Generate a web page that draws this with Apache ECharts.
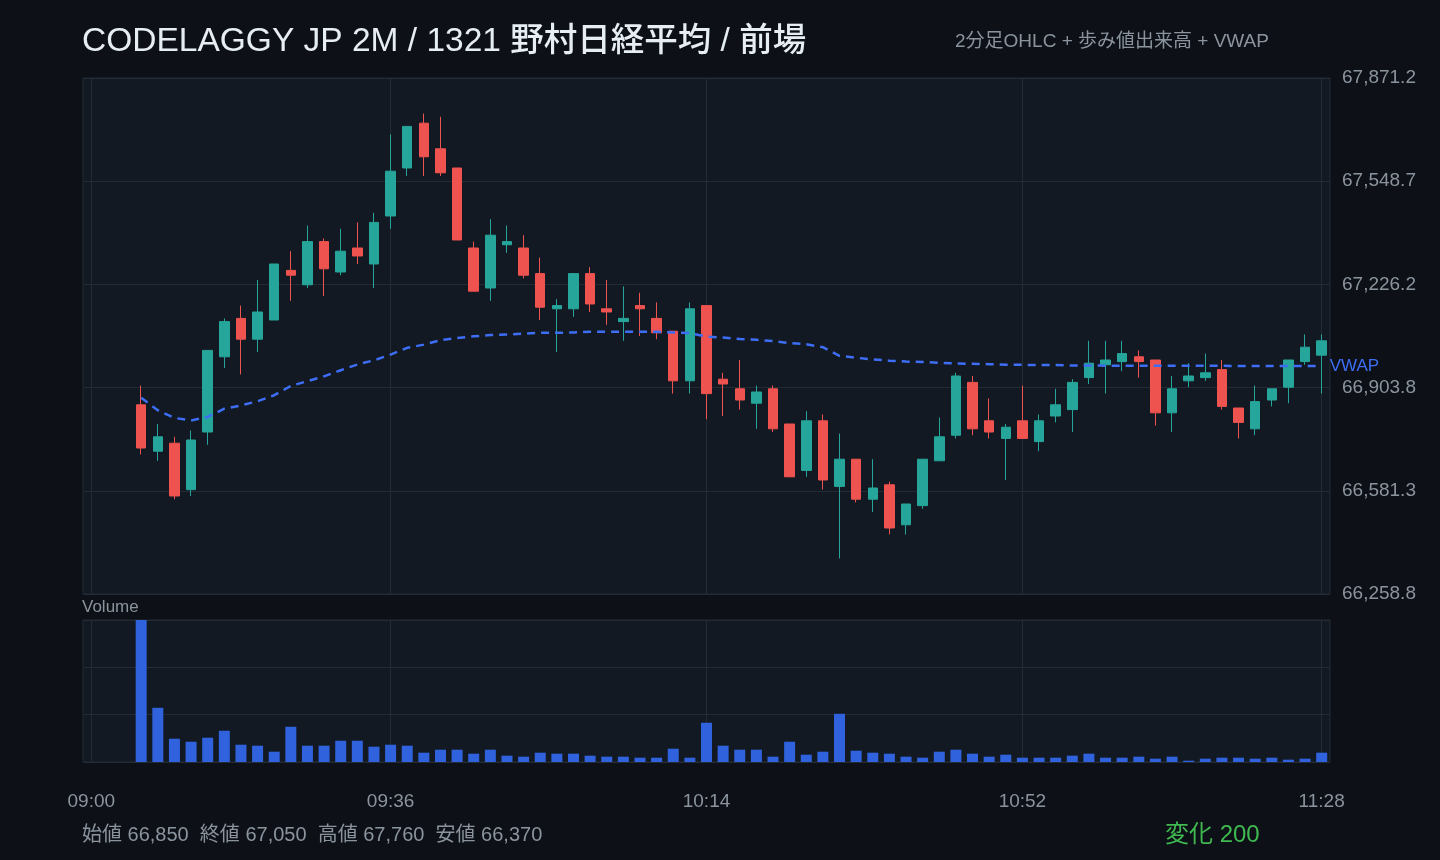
<!DOCTYPE html>
<html lang="ja">

<head>
    <meta charset="UTF-8">
    <title>CODELAGGY JP 2M</title>
    <script src="https://cdn.jsdelivr.net/npm/echarts@6.0.0/dist/echarts.min.js"></script>
    <style>
        html, body { margin: 0; padding: 0; background: #0d1117; }
        #chart { width: 1440px; height: 860px; }
    </style>
</head>

<body>
    <div id="chart"></div>

    <script>
        // 時間軸 09:00 - 11:28 (2分足)
        let times = []
        for (let m = 0; m <= 148; m += 2) {
            let h = 9 + Math.floor(m / 60)
            let mm = m % 60
            times.push((h < 10 ? '0' + h : '' + h) + ':' + (mm < 10 ? '0' + mm : mm))
        }
        const labelIdx = [0, 18, 37, 56, 74]

        // 09:06 から 11:28 までの足
        const barTimes = times.slice(3)
        const open = [66850, 66705, 66730, 66585, 66765, 67000, 67120, 67055, 67115, 67270, 67225, 67360,
            67265, 67340, 67290, 67440, 67590, 67730, 67650, 67590, 67340, 67215, 67350, 67340,
            67260, 67150, 67150, 67260, 67150, 67110, 67160, 67120, 67080, 66925, 67160, 66930,
            66900, 66855, 66900, 66790, 66645, 66800, 66595, 66680, 66555, 66600, 66475, 66535,
            66675, 66755, 66920, 66800, 66745, 66800, 66735, 66815, 66835, 66935, 66975, 66985,
            67000, 66990, 66825, 66925, 66935, 66960, 66840, 66775, 66865, 66905, 66985, 67005]
        const close = [66715, 66750, 66565, 66740, 67020, 67110, 67055, 67140, 67290, 67255, 67360, 67275,
            67330, 67315, 67420, 67580, 67720, 67625, 67575, 67365, 67205, 67380, 67360, 67255,
            67155, 67160, 67260, 67165, 67140, 67120, 67150, 67075, 66925, 67150, 66885, 66915,
            66865, 66890, 66775, 66625, 66800, 66615, 66680, 66555, 66590, 66465, 66540, 66680,
            66750, 66940, 66775, 66765, 66780, 66745, 66800, 66850, 66920, 66980, 66990, 67010,
            66985, 66825, 66900, 66940, 66950, 66845, 66795, 66860, 66900, 66990, 67030, 67050]
        const low = [66695, 66675, 66555, 66565, 66725, 66965, 66945, 67015, 67115, 67175, 67215, 67190,
            67255, 67290, 67215, 67400, 67565, 67565, 67565, 67365, 67205, 67175, 67325, 67245,
            67115, 67015, 67125, 67140, 67100, 67050, 67065, 67055, 66885, 66885, 66805, 66815,
            66835, 66775, 66765, 66625, 66625, 66585, 66370, 66545, 66515, 66445, 66445, 66525,
            66675, 66745, 66755, 66745, 66615, 66745, 66705, 66795, 66765, 66915, 66885, 66955,
            66935, 66785, 66765, 66905, 66925, 66835, 66745, 66755, 66845, 66855, 66975, 66885]
        const high = [66910, 66790, 66750, 66770, 67020, 67120, 67160, 67240, 67290, 67330, 67410, 67370,
            67400, 67420, 67450, 67695, 67720, 67760, 67750, 67590, 67360, 67430, 67410, 67380,
            67310, 67180, 67260, 67280, 67240, 67220, 67200, 67170, 67080, 67170, 67160, 66950,
            66990, 66910, 66910, 66790, 66830, 66820, 66760, 66680, 66680, 66610, 66540, 66680,
            66810, 66950, 66940, 66870, 66790, 66910, 66820, 66900, 66930, 67050, 67050, 67050,
            67020, 66990, 66940, 66980, 67010, 66990, 66840, 66910, 66900, 66990, 67070, 67070]
        const vwap = [66872, 66833, 66809, 66801, 66812, 66838, 66848, 66861, 66880, 66909, 66924, 66939,
            66958, 66976, 66989, 67007, 67028, 67038, 67052, 67059, 67064, 67068, 67070, 67072,
            67075, 67075, 67076, 67078, 67078, 67078, 67078, 67078, 67076, 67074, 67063, 67060,
            67056, 67053, 67049, 67043, 67039, 67030, 67003, 66997, 66992, 66988, 66985, 66984,
            66981, 66979, 66978, 66977, 66975, 66975, 66974, 66974, 66973, 66973, 66972, 66972,
            66972, 66972, 66972, 66972, 66972, 66972, 66971, 66971, 66971, 66971, 66971, 66971]
        // 出来高 (相対値)
        const volume = [427, 163, 70, 61, 73, 94, 52, 49, 31, 106, 49, 49,
            64, 64, 46, 52, 49, 28, 37, 37, 25, 37, 19, 16,
            28, 25, 25, 19, 16, 16, 13, 13, 40, 13, 118, 49,
            37, 37, 16, 61, 22, 31, 145, 34, 28, 25, 16, 13,
            31, 37, 25, 16, 22, 13, 13, 13, 19, 25, 13, 13,
            16, 10, 16, 4, 10, 13, 13, 10, 13, 7, 10, 28]

        // 集計
        const firstOpen = open[0]
        const lastClose = close[close.length - 1]
        const hi = Math.max(...high)
        const lo = Math.min(...low)
        const pad = (hi - lo) * 0.08
        const yMin = Math.round((lo - pad) * 10) / 10
        const yMax = Math.round((hi + pad) * 10) / 10
        const yStep = (yMax - yMin) / 5
        const volMax = Math.max(...volume)

        function comma(v, d) {
            return v.toLocaleString('en-US', { minimumFractionDigits: d, maximumFractionDigits: d })
        }
        function showIdx(idx) {
            return labelIdx.indexOf(idx) >= 0
        }

        const gridLine = '#232b35'
        const textGray = '#8b949e'

        let myChart = echarts.init(document.getElementById('chart'))

        let option = {
            backgroundColor: '#0d1117',
            animation: false,
            textStyle: { fontFamily: '"Liberation Sans", "Noto Sans CJK JP", sans-serif' },
            title: [
                {
                    text: 'CODELAGGY JP 2M / 1321 野村日経平均 / 前場',
                    left: 82, top: 25, padding: 0,
                    textStyle: { color: '#e6edf3', fontSize: 33.5, fontWeight: 500 }
                },
                {
                    text: '2分足OHLC + 歩み値出来高 + VWAP',
                    left: 955, top: 32, padding: 0,
                    textStyle: { color: textGray, fontSize: 19, fontWeight: 'normal' }
                },
                {
                    text: 'Volume',
                    left: 82, top: 599, padding: 0,
                    textStyle: { color: textGray, fontSize: 17, fontWeight: 'normal' }
                },
                {
                    text: '始値 ' + comma(firstOpen, 0) + '  終値 ' + comma(lastClose, 0) +
                        '  高値 ' + comma(hi, 0) + '  安値 ' + comma(lo, 0),
                    left: 82, top: 825, padding: 0,
                    textStyle: { color: textGray, fontSize: 20, fontWeight: 'normal' }
                },
                {
                    text: '変化 ' + comma(lastClose - firstOpen, 0),
                    left: 1165, top: 823, padding: 0,
                    textStyle: { color: '#3fb950', fontSize: 24, fontWeight: 'normal' }
                }
            ],
            grid: [
                {
                    left: 83, right: 110, top: 78, height: 516,
                    show: true, backgroundColor: '#121922', borderColor: gridLine, borderWidth: 1
                },
                {
                    left: 83, right: 110, top: 620, height: 142,
                    show: true, backgroundColor: '#121922', borderColor: gridLine, borderWidth: 1
                }
            ],
            xAxis: [
                {
                    type: 'category',
                    gridIndex: 0,
                    data: times,
                    boundaryGap: true,
                    axisLine: { show: false },
                    axisTick: { show: false },
                    axisLabel: { show: false },
                    splitLine: { show: true, interval: showIdx, alignWithLabel: true, lineStyle: { color: gridLine } }
                },
                {
                    type: 'category',
                    gridIndex: 1,
                    data: times,
                    boundaryGap: true,
                    axisLine: { show: false },
                    axisTick: { show: false },
                    axisLabel: { show: true, interval: showIdx, color: textGray, fontSize: 19, margin: 30 },
                    splitLine: { show: true, interval: showIdx, alignWithLabel: true, lineStyle: { color: gridLine } }
                }
            ],
            yAxis: [
                {
                    type: 'value',
                    gridIndex: 0,
                    position: 'right',
                    min: yMin,
                    max: yMax,
                    interval: yStep,
                    axisLine: { show: false },
                    axisTick: { show: false },
                    axisLabel: {
                        color: textGray, fontSize: 19, margin: 12,
                        formatter: function (v) { return comma(v, 1) }
                    },
                    splitLine: { lineStyle: { color: gridLine } }
                },
                {
                    type: 'value',
                    gridIndex: 1,
                    min: 0,
                    max: volMax,
                    interval: volMax / 3,
                    axisLine: { show: false },
                    axisTick: { show: false },
                    axisLabel: { show: false },
                    splitLine: { lineStyle: { color: gridLine } }
                }
            ],
            series: [
                {
                    name: 'OHLC',
                    type: 'candlestick',
                    xAxisIndex: 0,
                    yAxisIndex: 0,
                    barWidth: 10,
                    encode: { x: 0, y: [1, 2, 3, 4] },
                    data: barTimes.map((t, k) => [t, open[k], close[k], low[k], high[k]]),
                    itemStyle: {
                        color: '#26a69a',
                        color0: '#ef5350',
                        borderColor: '#26a69a',
                        borderColor0: '#ef5350',
                        borderWidth: 1
                    }
                },
                {
                    name: 'VWAP',
                    type: 'line',
                    xAxisIndex: 0,
                    yAxisIndex: 0,
                    symbol: 'none',
                    data: barTimes.map((t, k) => [t, vwap[k]]),
                    lineStyle: { color: '#3d6ef5', width: 2.5, type: [8, 6] },
                    endLabel: {
                        show: true,
                        formatter: 'VWAP',
                        color: '#3d6ef5',
                        fontSize: 17,
                        distance: 8
                    }
                },
                {
                    name: 'Volume',
                    type: 'bar',
                    xAxisIndex: 1,
                    yAxisIndex: 1,
                    barWidth: 11,
                    data: barTimes.map((t, k) => [t, volume[k]]),
                    itemStyle: { color: '#2f62dc' }
                }
            ]
        };

        myChart.setOption(option);
    </script>
</body>

</html>
